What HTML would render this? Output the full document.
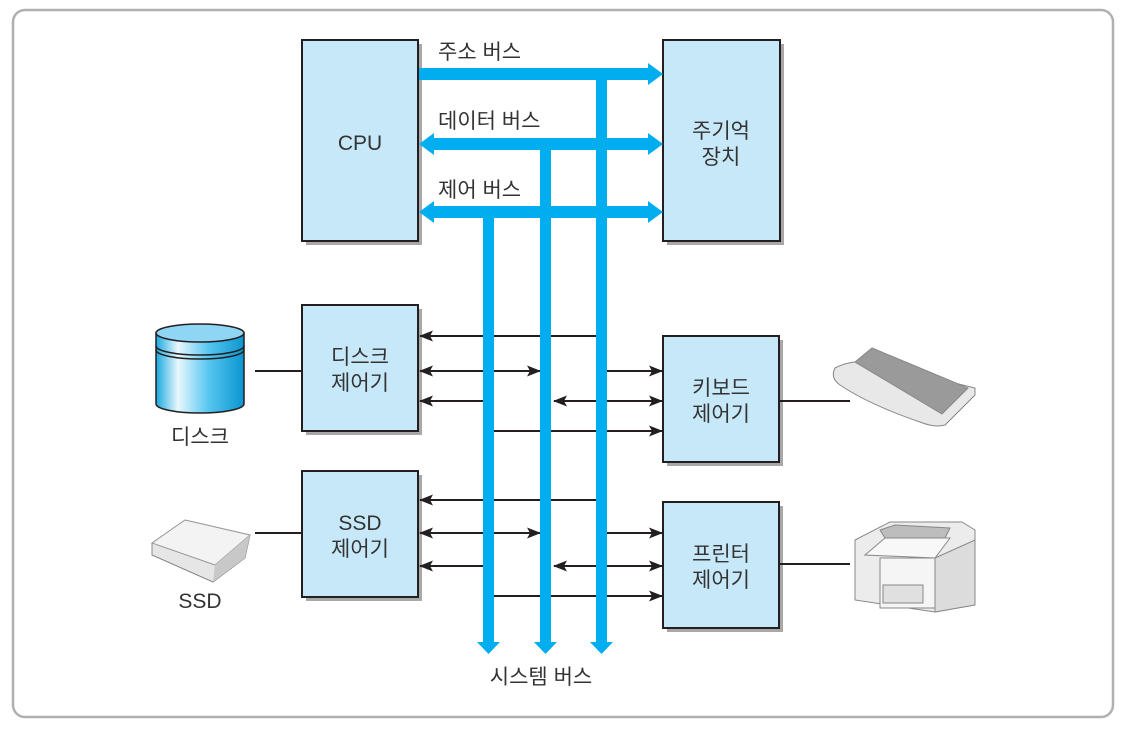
<!DOCTYPE html>
<html><head><meta charset="utf-8"><style>
html,body{margin:0;padding:0;background:#fff;}
svg text{font-family:"Liberation Sans","Noto Sans CJK KR",sans-serif;fill:#333;}
</style></head><body>
<svg width="1126" height="726" viewBox="0 0 1126 726" xmlns="http://www.w3.org/2000/svg">
<defs>
<marker id="ah" markerWidth="14" markerHeight="12" refX="13" refY="6" orient="auto-start-reverse" markerUnits="userSpaceOnUse">
<path d="M0,0.5 L14,6 L0,11.5 L3,6 Z" fill="#231f20"/>
</marker>
<linearGradient id="cyl" x1="0" x2="1">
<stop offset="0" stop-color="#1aa9e0"/><stop offset="0.25" stop-color="#e9f7fd"/><stop offset="0.6" stop-color="#55c6f0"/><stop offset="1" stop-color="#0b95d0"/>
</linearGradient>
</defs>
<rect x="13" y="10" width="1100" height="707" rx="12" fill="#fff" stroke="#b0b0b0" stroke-width="2.5"/>

<g fill="#a8a8a8">
<rect x="306" y="44" width="116" height="201"/>
<rect x="667" y="44" width="117" height="201"/>
<rect x="306" y="309" width="116" height="126"/>
<rect x="667" y="340" width="116" height="126"/>
<rect x="306" y="475" width="116" height="126"/>
<rect x="667" y="506" width="116" height="126"/>
</g>
<g fill="#c7e8f8" stroke="#231f20" stroke-width="2">
<rect x="302" y="40" width="116" height="201"/>
<rect x="663" y="40" width="117" height="201"/>
<rect x="302" y="305" width="116" height="126"/>
<rect x="663" y="336" width="116" height="126"/>
<rect x="302" y="471" width="116" height="126"/>
<rect x="663" y="502" width="116" height="126"/>
</g>

<g stroke="#231f20" stroke-width="2" fill="none">
<line x1="601" y1="336" x2="420" y2="336" marker-end="url(#ah)"/>
<line x1="420" y1="371" x2="540" y2="371" marker-start="url(#ah)" marker-end="url(#ah)"/>
<line x1="601" y1="371" x2="662" y2="371" marker-end="url(#ah)"/>
<line x1="489" y1="401" x2="420" y2="401" marker-end="url(#ah)"/>
<line x1="554" y1="401" x2="662" y2="401" marker-start="url(#ah)" marker-end="url(#ah)"/>
<line x1="489" y1="431" x2="662" y2="431" marker-end="url(#ah)"/>

<line x1="601" y1="500" x2="420" y2="500" marker-end="url(#ah)"/>
<line x1="420" y1="533" x2="540" y2="533" marker-start="url(#ah)" marker-end="url(#ah)"/>
<line x1="601" y1="533" x2="662" y2="533" marker-end="url(#ah)"/>
<line x1="489" y1="566" x2="420" y2="566" marker-end="url(#ah)"/>
<line x1="554" y1="566" x2="662" y2="566" marker-start="url(#ah)" marker-end="url(#ah)"/>
<line x1="489" y1="596" x2="662" y2="596" marker-end="url(#ah)"/>

<line x1="255" y1="371" x2="302" y2="371"/>
<line x1="255" y1="533" x2="302" y2="533"/>
<line x1="780" y1="401" x2="850" y2="401"/>
<line x1="780" y1="564" x2="850" y2="564"/>
</g>

<g fill="#00aeef">
<rect x="419" y="68" width="230" height="12"/>
<path d="M648,63 L663,74 L648,85 Z"/>
<rect x="433" y="138" width="216" height="12"/>
<path d="M648,133 L663,144 L648,155 Z"/>
<path d="M434,133 L419,144 L434,155 Z"/>
<rect x="433" y="206" width="216" height="12"/>
<path d="M648,201 L663,212 L648,223 Z"/>
<path d="M434,201 L419,212 L434,223 Z"/>
<rect x="483" y="206" width="11" height="437"/>
<rect x="540" y="138" width="11" height="505"/>
<rect x="596" y="68" width="11" height="575"/>
<path d="M477,642 L500,642 L488.5,654 Z"/>
<path d="M534,642 L557,642 L545.5,654 Z"/>
<path d="M590,642 L613,642 L601.5,654 Z"/>
</g>

<g font-size="21">
<text x="438" y="59">주소 버스</text>
<text x="438" y="128">데이터 버스</text>
<text x="438" y="197">제어 버스</text>
<text x="360" y="150" text-anchor="middle">CPU</text>
<text x="721" y="138" text-anchor="middle">주기억</text>
<text x="721" y="164" text-anchor="middle">장치</text>
<text x="360" y="364" text-anchor="middle">디스크</text>
<text x="360" y="390" text-anchor="middle">제어기</text>
<text x="721" y="395" text-anchor="middle">키보드</text>
<text x="721" y="421" text-anchor="middle">제어기</text>
<text x="360" y="530" text-anchor="middle">SSD</text>
<text x="360" y="556" text-anchor="middle">제어기</text>
<text x="721" y="561" text-anchor="middle">프린터</text>
<text x="721" y="587" text-anchor="middle">제어기</text>
<text x="200" y="444" text-anchor="middle">디스크</text>
<text x="200" y="608" text-anchor="middle">SSD</text>
<text x="541" y="684" text-anchor="middle">시스템 버스</text>
</g>

<g stroke="#231f20" stroke-width="1.5">
<path d="M156,333 L156,404 A44,9 0 0 0 244,404 L244,333 Z" fill="url(#cyl)"/>
<ellipse cx="200" cy="333" rx="44" ry="9" fill="#8fd6f4"/>
<path d="M156,346 A44,9 0 0 0 244,346" fill="none"/>
<path d="M156,350 A44,9 0 0 0 244,350" fill="none"/>
</g>

<g>
<path d="M152,543 L185,520 L250,535 L245,558 L213,582 L152,555 Z" fill="#e6e6e6" stroke="#888" stroke-width="1"/>
<path d="M152,543 L185,520 L250,535 L215,565 Z" fill="#f3f3f3" stroke="#999" stroke-width="1"/>
<path d="M215,565 L250,535 L245,558 L213,582 Z" fill="#c8c8c8"/>
</g>

<g stroke="#888" stroke-width="1">
<path d="M835,368 Q850,360 870,362 L975,388 L975,395 L945,425 Q935,428 920,422 Q870,405 840,385 Q830,378 835,368 Z" fill="#e8e8e8"/>
<path d="M855,362 L872,348 L968,388 L942,414 Z" fill="#9a9a9a"/>
</g>

<g stroke="#888" stroke-width="1">
<path d="M855,540 L890,522 L962,522 L975,530 L975,605 L935,612 L855,600 Z" fill="#ececec"/>
<path d="M865,555 L885,538 L950,538 L935,558 Z" fill="#f8f8f8"/>
<path d="M880,530 L895,525 L950,528 L945,538 L885,538 Z" fill="#bdbdbd"/>
<rect x="880" y="558" width="55" height="50" fill="#f5f5f5"/>
<rect x="883" y="585" width="40" height="18" fill="#e0e0e0"/>
<path d="M935,558 L975,540 L975,605 L935,612 Z" fill="#dcdcdc"/>
</g>
</svg>
</body></html>
